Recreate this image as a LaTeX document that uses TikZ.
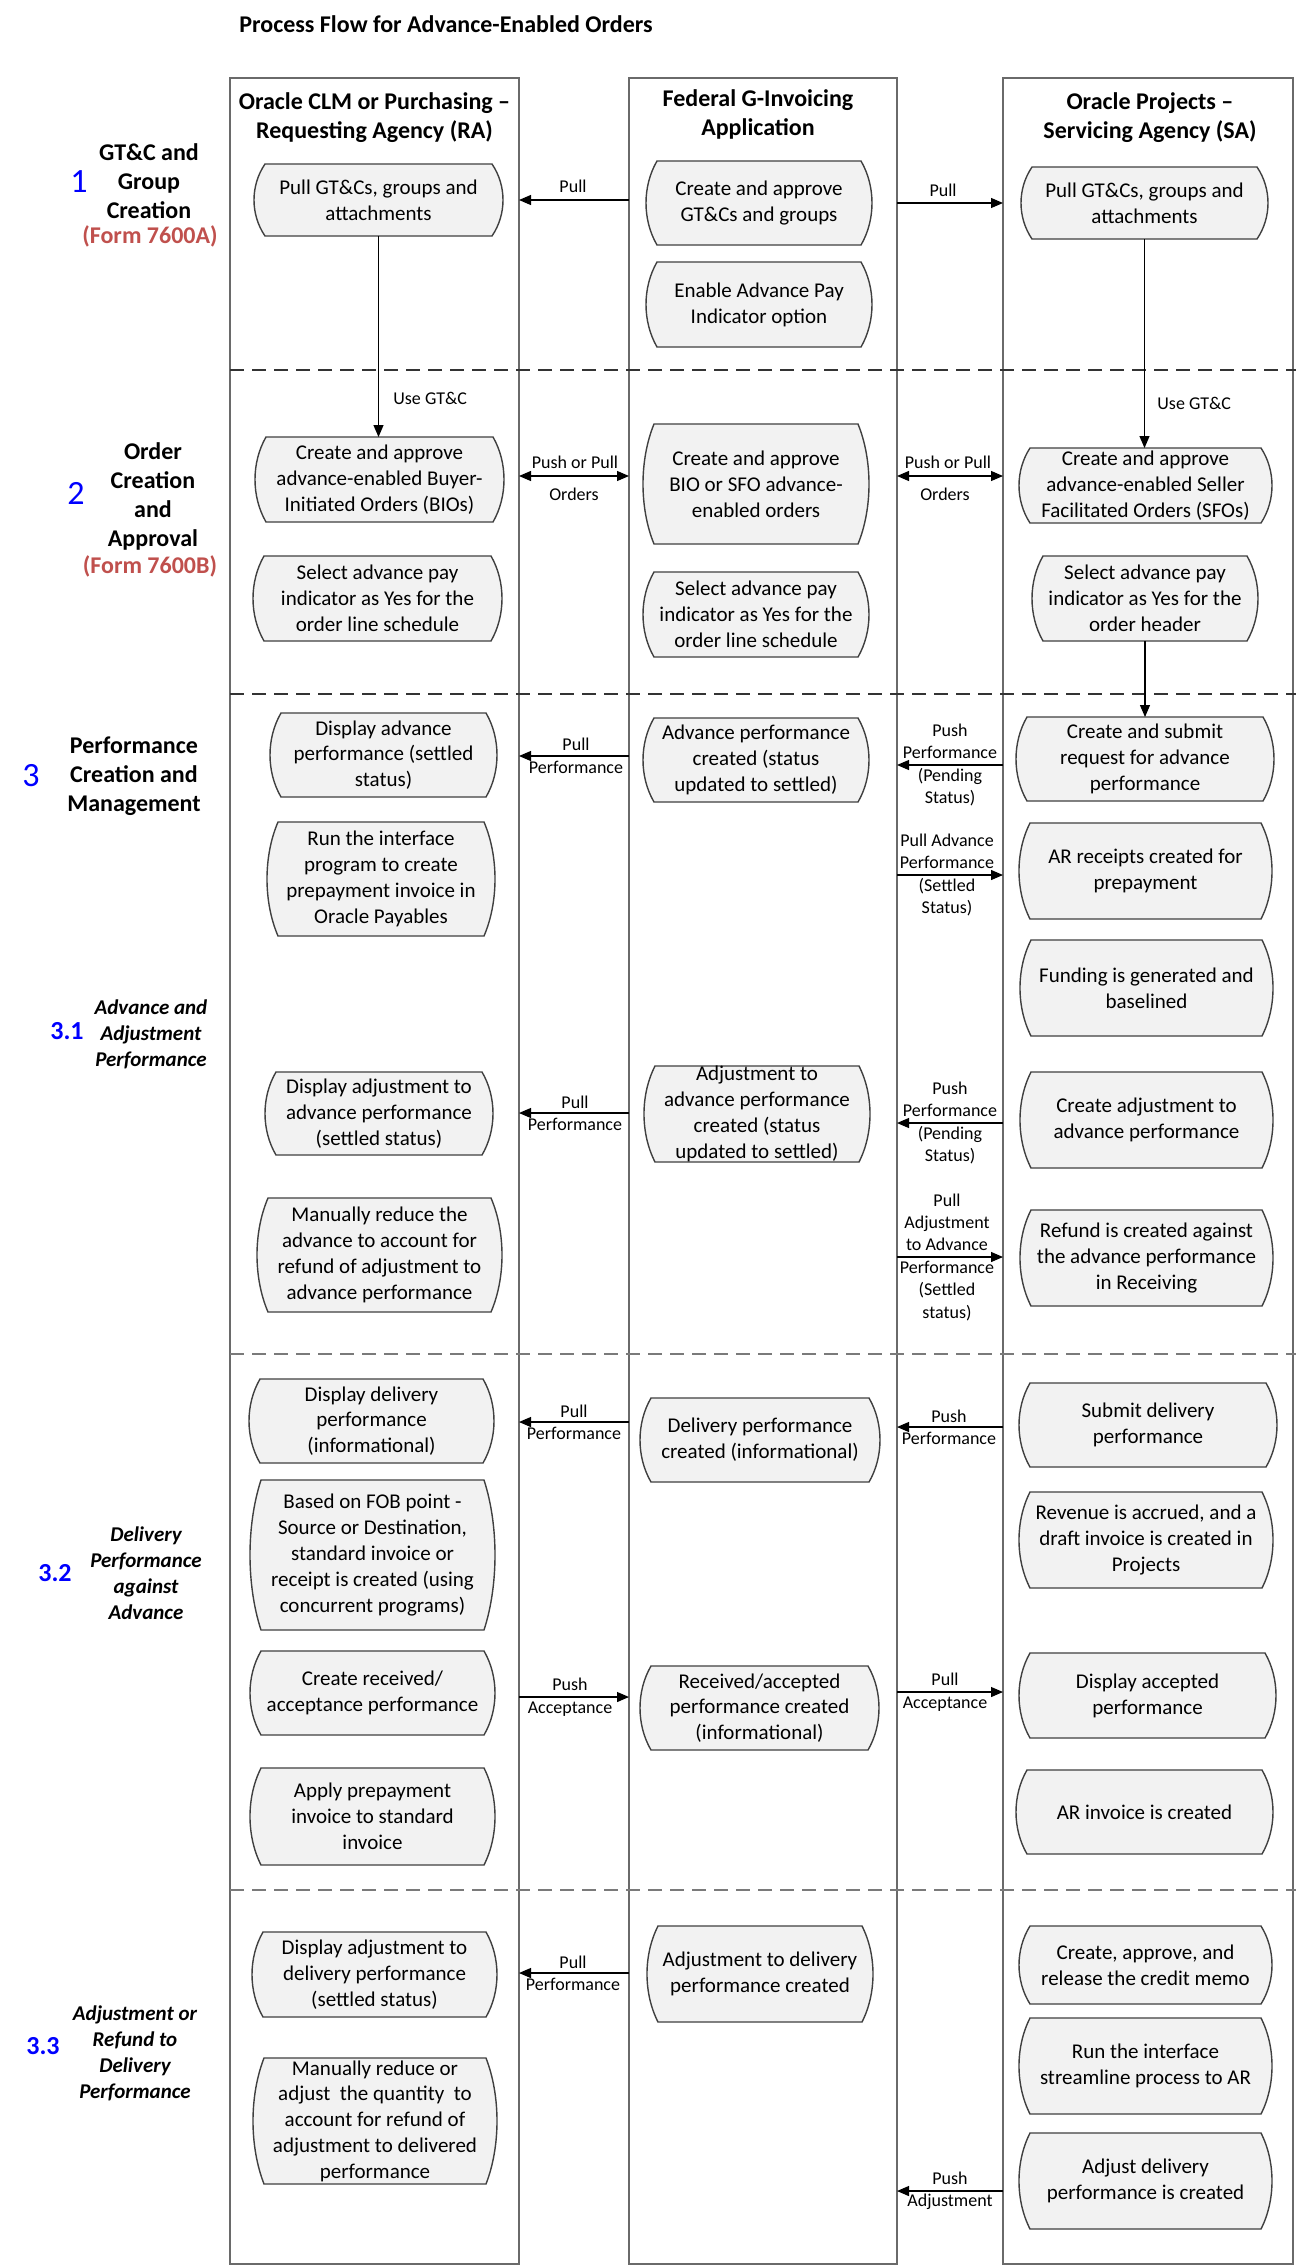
\documentclass[tikz,border=0pt]{standalone}
\usepackage{fontspec}
\setmainfont{Carlito}
\usetikzlibrary{arrows.meta}
\definecolor{boxfill}{HTML}{F2F2F2}
\definecolor{boxline}{HTML}{404040}
\definecolor{lanecol}{HTML}{6A6A6A}
\definecolor{numblue}{HTML}{0000FF}
\definecolor{formred}{HTML}{C0504D}
\definecolor{sepdark}{HTML}{333333}
\definecolor{seplight}{HTML}{7A7A7A}
\tikzset{
  lane/.style={draw=lanecol, line width=0.8pt, inner sep=0pt, outer sep=0pt},
  boxshape/.style={draw=boxline, fill=boxfill, line width=0.7pt},
  boxtext/.style={font=\fontsize{10.5}{12.9}\selectfont, align=center, inner sep=0pt, outer sep=0pt},
  elab/.style={font=\fontsize{9}{11.2}\selectfont, align=center, inner sep=0pt},
  head/.style={font=\bfseries\fontsize{12}{14.5}\selectfont, align=center, inner sep=0pt},
  titlestyle/.style={font=\bfseries\fontsize{12}{14.5}\selectfont, inner sep=0pt},
  phase/.style={font=\bfseries\fontsize{12}{14.5}\selectfont, align=center, inner sep=0pt},
  form/.style={font=\bfseries\fontsize{12}{14.5}\selectfont, text=formred, inner sep=0pt},
  sublab/.style={font=\bfseries\itshape\fontsize{10.5}{13}\selectfont, align=center, inner sep=0pt},
  num/.style={font=\fontsize{17}{20}\selectfont, text=numblue, inner sep=0pt},
  subnum/.style={font=\bfseries\fontsize{13}{16}\selectfont, text=numblue, inner sep=0pt},
  arr/.style={draw=black, line width=0.6pt, -{Triangle[length=6pt,width=5pt]}},
  darr/.style={draw=black, line width=0.6pt, {Triangle[length=6pt,width=5pt]}-{Triangle[length=6pt,width=5pt]}},
  sepline/.style={line width=0.8pt, dash pattern=on 7pt off 4pt},
}
% name, cx, cy, w, h, text  (pixel units)
\newcommand\procbox[6]{%
  \path[boxshape] ({#2-#4/2+11},{#3-#5/2}) -- ({#2+#4/2-11},{#3-#5/2})
    .. controls ({#2+#4/2+11/3},{#3-#5/2+#5*0.3}) and ({#2+#4/2+11/3},{#3+#5/2-#5*0.3}) .. ({#2+#4/2-11},{#3+#5/2})
    -- ({#2-#4/2+11},{#3+#5/2})
    .. controls ({#2-#4/2-11/3},{#3+#5/2-#5*0.3}) and ({#2-#4/2-11/3},{#3-#5/2+#5*0.3}) .. ({#2-#4/2+11},{#3-#5/2}) -- cycle;
  \node[boxtext, minimum width={#4*0.5pt}, minimum height={#5*0.5pt}] (#1) at (#2,#3) {#6};}
\begin{document}
\begin{tikzpicture}[x=0.5pt,y=-0.5pt]
\useasboundingbox (0,0) rectangle (1296,2266);
\fill[white] (0,0) rectangle (1296,2266);

% title
\node[titlestyle] (title) at (446,24) {Process Flow for Advance-Enabled Orders};

% lanes
\node[lane, minimum width=144.5pt, minimum height=1093pt] (RA) at (374.5,1171) {};
\node[lane, minimum width=134pt, minimum height=1093pt] (GI) at (763,1171) {};
\node[lane, minimum width=145pt, minimum height=1093pt] (SA) at (1148,1171) {};

\node[head] (hRA) at (374.5,117.5) {Oracle CLM or Purchasing –\\Requesting Agency (RA)};
\node[head] (hGI) at (758,114) {Federal G-Invoicing\\Application};
\node[head] (hSA) at (1150,117.5) {Oracle Projects –\\Servicing Agency (SA)};

% separators
\coordinate (d1) at (1296,370);
\coordinate (d2) at (1296,694);
\coordinate (d3) at (1296,1354);
\coordinate (d4) at (1296,1890);
\draw[sepline, draw=sepdark] (RA.west |- d1) -- (d1);
\draw[sepline, draw=sepdark] (RA.west |- d2) -- (d2);
\draw[sepline, draw=seplight] (RA.west |- d3) -- (d3);
\draw[sepline, draw=seplight] (RA.west |- d4) -- (d4);

% phase labels
\node[num] (n1) at (79,182) {1};
\node[phase] (l1) at (149,181) {GT\&C and\\Group\\Creation};
\node[form] (f1) at (150,236) {(Form 7600A)};
\node[num] (n2) at (76,493) {2};
\node[phase] (l2) at (153,496.5) {Order\\Creation\\and\\Approval};
\node[form] (f2) at (150,566) {(Form 7600B)};
\node[num] (n3) at (31,776) {3};
\node[phase] (l3) at (134,776) {Performance\\Creation and\\Management};
\node[subnum] (n31) at (67,1031) {3.1};
\node[sublab] (l31) at (151,1034) {Advance and\\Adjustment\\Performance};
\node[subnum] (n32) at (55,1573) {3.2};
\node[sublab] (l32) at (146,1573.5) {Delivery\\Performance\\against\\Advance};
\node[subnum] (n33) at (43,2046) {3.3};
\node[sublab] (l33) at (135,2053.5) {Adjustment or\\Refund to\\Delivery\\Performance};

% section 1
\procbox{b1}{378.5}{200}{249}{72}{Pull GT\&Cs, groups and\\attachments}
\procbox{g1}{759}{203}{226}{84}{Create and approve\\GT\&Cs and groups}
\procbox{g2}{759}{304.5}{226}{85}{Enable Advance Pay\\Indicator option}
\procbox{s1}{1144.5}{203}{247}{72}{Pull GT\&Cs, groups and\\attachments}

% section 2
\procbox{b2}{379.5}{479.5}{249}{85}{Create and approve\\advance-enabled Buyer-\\Initiated Orders (BIOs)}
\procbox{b3}{377.5}{598.5}{249}{85}{Select advance pay\\indicator as Yes for the\\order line schedule}
\procbox{g3}{756}{484}{226}{120}{Create and approve\\BIO or SFO advance-\\enabled orders}
\procbox{g4}{756}{614.5}{226}{85}{Select advance pay\\indicator as Yes for the\\order line schedule}
\procbox{s2}{1145.5}{485.5}{253}{75}{Create and approve\\advance-enabled Seller\\Facilitated Orders (SFOs)}
\procbox{s3}{1145}{598.5}{226}{85}{Select advance pay\\indicator as Yes for the\\order header}

% section 3 / 3.1
\procbox{b4}{383.5}{755}{227}{84}{Display advance\\performance (settled\\status)}
\procbox{b5}{381}{879}{228}{114}{Run the interface\\program to create\\prepayment invoice in\\Oracle Payables}
\procbox{b6}{379}{1113.5}{228}{83}{Display adjustment to\\advance performance\\(settled status)}
\procbox{b7}{379.5}{1255}{245}{114}{Manually reduce the\\advance to account for\\refund of adjustment to\\advance performance}
\procbox{g5}{756}{760}{226}{84}{Advance performance\\created (status\\updated to settled)}
\procbox{g6}{757}{1114}{226}{96}{Adjustment to\\advance performance\\created (status\\updated to settled)}
\procbox{s4}{1145}{759}{258}{84}{Create and submit\\request for advance\\performance}
\procbox{s5}{1145.5}{871}{253}{96}{AR receipts created for\\prepayment}
\procbox{s6}{1146.5}{988}{253}{96}{Funding is generated and\\baselined}
\procbox{s7}{1146.5}{1120}{253}{96}{Create adjustment to\\advance performance}
\procbox{s8}{1146.5}{1258}{253}{96}{Refund is created against\\the advance performance\\in Receiving}

% section 3.2
\procbox{b8}{371.5}{1421}{245}{84}{Display delivery\\performance\\(informational)}
\procbox{b9}{372.5}{1555}{245}{150}{Based on FOB point -\\Source or Destination,\\standard invoice or\\receipt is created (using\\concurrent programs)}
\procbox{b10}{372.5}{1693}{245}{84}{Create received/\\acceptance performance}
\procbox{b11}{372.5}{1816.5}{245}{97}{Apply prepayment\\invoice to standard\\invoice}
\procbox{g7}{760}{1440}{240}{84}{Delivery performance\\created (informational)}
\procbox{g8}{759.5}{1708}{239}{84}{Received/accepted\\performance created\\(informational)}
\procbox{s9}{1148}{1425}{258}{84}{Submit delivery\\performance}
\procbox{s10}{1146}{1540}{254}{96}{Revenue is accrued, and a\\draft invoice is created in\\Projects}
\procbox{s11}{1147.5}{1695.5}{257}{85}{Display accepted\\performance}
\procbox{s12}{1144.5}{1812}{257}{84}{AR invoice is created}

% section 3.3
\procbox{b12}{374.5}{1974.5}{245}{85}{Display adjustment to\\delivery performance\\(settled status)}
\procbox{b13}{375}{2121}{244}{126}{Manually reduce or\\adjust~ the quantity~ to\\account for refund of\\adjustment to delivered\\performance}
\procbox{g9}{760}{1974}{226}{96}{Adjustment to delivery\\performance created}
\procbox{s13}{1145.5}{1965}{253}{78}{Create, approve, and\\release the credit memo}
\procbox{s14}{1145.5}{2066}{253}{96}{Run the interface\\streamline process to AR}
\procbox{s15}{1145.5}{2181}{253}{96}{Adjust delivery\\performance is created}

% edge labels
\node[elab] (e1) at (573,186) {Pull};
\node[elab] (e2) at (943,190) {Pull};
\coordinate (o1) at (0,476);
\node[elab] (e3a) at (575,462) {Push or Pull};
\node[elab] (e3b) at (574,494) {Orders};
\node[elab] (e4a) at (948,462) {Push or Pull};
\node[elab] (e4b) at (945,494) {Orders};
\node[elab] (e5) at (576,756) {Pull\\Performance};
\node[elab] (e6) at (950,765) {Push\\Performance\\(Pending\\Status)};
\node[elab] (e7) at (947,875) {Pull Advance\\Performance\\(Settled\\Status)};
\node[elab] (e8) at (575,1113) {Pull\\Performance};
\node[elab] (e9) at (950,1123) {Push\\Performance\\(Pending\\Status)};
\node[elab] (e10) at (947,1257) {Pull\\Adjustment\\to Advance\\Performance\\(Settled\\status)};
\node[elab] (e11) at (574,1422) {Pull\\Performance};
\node[elab] (e12) at (949,1427) {Push\\Performance};
\node[elab] (e13) at (570,1697) {Push\\Acceptance};
\node[elab] (e14) at (945,1692) {Pull\\Acceptance};
\node[elab] (e15) at (573,1973) {Pull\\Performance};
\node[elab] (e16) at (950,2191) {Push\\Adjustment};
\node[elab, anchor=west] (u1) at (393,398) {Use GT\&C};
\node[elab, anchor=west] (u2) at (1157,403) {Use GT\&C};

% connectors
\draw[arr] (GI.west |- b1) -- (RA.east |- b1);
\draw[arr] (GI.east |- g1) -- (SA.west |- g1);
\draw[darr] (RA.east |- o1) -- (GI.west |- o1);
\draw[darr] (GI.east |- o1) -- (SA.west |- o1);
\draw[arr] (GI.west |- e5) -- (RA.east |- e5);
\draw[arr] (SA.west |- e6) -- (GI.east |- e6);
\draw[arr] (GI.east |- e7) -- (SA.west |- e7);
\draw[arr] (GI.west |- e8) -- (RA.east |- e8);
\draw[arr] (SA.west |- e9) -- (GI.east |- e9);
\draw[arr] (GI.east |- e10) -- (SA.west |- e10);
\draw[arr] (GI.west |- e11) -- (RA.east |- e11);
\draw[arr] (SA.west |- e12) -- (GI.east |- e12);
\draw[arr] (RA.east |- e13) -- (GI.west |- e13);
\draw[arr] (GI.east |- e14) -- (SA.west |- e14);
\draw[arr] (GI.west |- e15) -- (RA.east |- e15);
\draw[arr] (SA.west |- e16) -- (GI.east |- e16);
\draw[arr] (b1.south) -- (b1.south |- b2.north);
\draw[arr] (s1.south) -- (s1.south |- s2.north);
\draw[arr] (s3.south) -- (s3.south |- s4.north);
\end{tikzpicture}
\end{document}
